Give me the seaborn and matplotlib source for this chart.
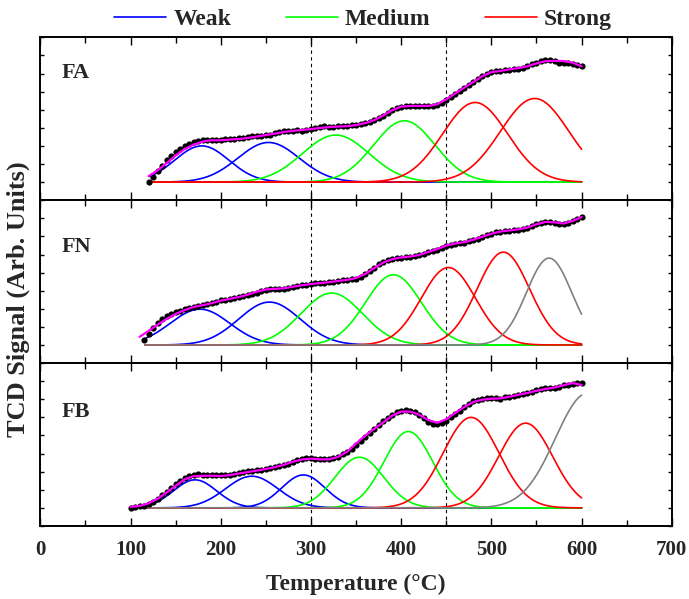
import numpy as np
import pandas as pd
import matplotlib
matplotlib.use('Agg')
import matplotlib.pyplot as plt
from matplotlib.ticker import MultipleLocator
import seaborn as sns

sns.set_theme(style='ticks')
plt.rcParams['font.family'] = ['Liberation Serif', 'DejaVu Serif']
plt.rcParams['font.weight'] = 'bold'

# Panel names
samples = ['FA', 'FN', 'FB']

# Experimental points (every 5 degC) and fitted envelope (every 10 degC)
fa_start, fn_start, fb_start = 120, 115, 100
fa_dots = [1.02, 1.3, 1.62, 1.9, 2.2, 2.45, 2.68, 2.85, 3.0, 3.12, 3.2, 3.26, 3.3, 3.33, 3.33, 3.34,
           3.35, 3.36, 3.38, 3.4, 3.42, 3.44, 3.5, 3.55, 3.52, 3.57, 3.6, 3.63, 3.7, 3.76, 3.8, 3.82,
           3.84, 3.86, 3.85, 3.9, 3.95, 4.0, 4.05, 4.08, 4.04, 4.05, 4.1, 4.12, 4.12, 4.14, 4.16, 4.2,
           4.27, 4.33, 4.42, 4.55, 4.68, 4.82, 4.97, 5.08, 5.15, 5.2, 5.22, 5.2, 5.19, 5.2, 5.2, 5.23,
           5.28, 5.38, 5.52, 5.7, 5.85, 6.03, 6.2, 6.35, 6.52, 6.68, 6.85, 6.98, 7.08, 7.13, 7.15, 7.18,
           7.2, 7.25, 7.27, 7.33, 7.4, 7.5, 7.6, 7.68, 7.73, 7.73, 7.7, 7.6, 7.59, 7.57, 7.51, 7.48, 7.44]
fn_dots = [1.25, 1.6, 1.95, 2.2, 2.42, 2.58, 2.72, 2.82, 2.9, 2.98, 3.06, 3.12, 3.17, 3.22, 3.27, 3.33,
           3.4, 3.46, 3.5, 3.56, 3.6, 3.64, 3.7, 3.75, 3.83, 3.9, 3.98, 4.05, 4.08, 4.08, 4.1, 4.12,
           4.16, 4.2, 4.26, 4.3, 4.33, 4.36, 4.4, 4.43, 4.45, 4.47, 4.5, 4.53, 4.57, 4.58, 4.62, 4.66,
           4.78, 4.92, 5.08, 5.25, 5.45, 5.58, 5.68, 5.74, 5.78, 5.82, 5.85, 5.88, 5.92, 5.96, 6.03, 6.12,
           6.2, 6.27, 6.35, 6.45, 6.55, 6.6, 6.62, 6.65, 6.72, 6.8, 6.88, 6.97, 7.05, 7.14, 7.22, 7.27,
           7.3, 7.32, 7.35, 7.37, 7.42, 7.48, 7.56, 7.68, 7.76, 7.8, 7.8, 7.76, 7.7, 7.68, 7.75, 7.85,
           7.95, 8.06]
fb_dots = [1.02, 1.05, 1.08, 1.12, 1.2, 1.32, 1.48, 1.7, 1.88, 2.08, 2.3, 2.48, 2.65, 2.78, 2.84, 2.85,
           2.84, 2.83, 2.82, 2.8, 2.79, 2.8, 2.84, 2.87, 2.93, 2.96, 3.02, 3.05, 3.08, 3.12, 3.14, 3.18,
           3.24, 3.3, 3.38, 3.45, 3.56, 3.64, 3.7, 3.75, 3.75, 3.72, 3.7, 3.7, 3.72, 3.76, 3.82, 3.95,
           4.08, 4.28, 4.45, 4.68, 4.9, 5.15, 5.35, 5.6, 5.78, 5.95, 6.12, 6.28, 6.38, 6.4, 6.38, 6.3,
           6.12, 5.95, 5.75, 5.65, 5.62, 5.7, 5.82, 6.0, 6.2, 6.38, 6.58, 6.75, 6.88, 6.97, 7.02, 7.05,
           7.05, 7.05, 7.04, 7.1, 7.15, 7.2, 7.24, 7.3, 7.35, 7.42, 7.5, 7.55, 7.62, 7.65, 7.62, 7.68,
           7.78, 7.8, 7.86, 7.9, 7.92]

fa_fit_start, fn_fit_start, fb_fit_start = 120, 110, 100
fa_fit = [1.33, 1.65, 2.05, 2.47, 2.83, 3.07, 3.24, 3.31, 3.31, 3.35, 3.38, 3.44, 3.52, 3.6, 3.68,
          3.77, 3.83, 3.88, 3.93, 3.99, 4.04, 4.07, 4.09, 4.15, 4.26, 4.42, 4.68, 4.97, 5.17, 5.21,
          5.21, 5.21, 5.3, 5.57, 5.9, 6.22, 6.53, 6.85, 7.08, 7.14, 7.23, 7.3, 7.4, 7.56, 7.68, 7.7,
          7.69, 7.6, 7.4]
fn_fit = [1.45, 1.78, 2.12, 2.44, 2.71, 2.93, 3.1, 3.2, 3.31, 3.45, 3.55, 3.65, 3.78, 3.94, 4.07,
          4.1, 4.13, 4.22, 4.3, 4.37, 4.42, 4.47, 4.54, 4.6, 4.7, 4.92, 5.25, 5.55, 5.74, 5.84, 5.89,
          5.97, 6.14, 6.3, 6.5, 6.61, 6.68, 6.82, 6.98, 7.15, 7.27, 7.33, 7.39, 7.49, 7.67, 7.8, 7.78,
          7.71, 7.85, 8.07]
fb_fit = [1.06, 1.11, 1.25, 1.5, 1.85, 2.22, 2.58, 2.75, 2.77, 2.78, 2.76, 2.81, 2.9, 2.98, 3.06,
          3.15, 3.25, 3.38, 3.55, 3.67, 3.72, 3.68, 3.68, 3.82, 4.1, 4.55, 4.99, 5.36, 5.72, 6.1, 6.32,
          6.32, 6.15, 5.86, 5.7, 5.9, 6.25, 6.58, 6.85, 6.98, 7.03, 7.05, 7.14, 7.25, 7.35, 7.47, 7.57,
          7.65, 7.78, 7.9, 7.79]

# Deconvoluted peaks: centre (degC), height above baseline, width (sigma, degC), type
fa_centers = [179, 253, 327.5, 403.5, 482, 548]
fa_heights = [2.0, 2.19, 2.6, 3.39, 4.4, 4.62]
fa_widths = [30, 34, 37, 34, 36, 38]
fa_types = ['Weak', 'Weak', 'Medium', 'Medium', 'Strong', 'Strong']

fn_centers = [177, 254, 323, 391.4, 452.3, 513.3, 564]
fn_heights = [1.98, 2.37, 2.87, 3.88, 4.28, 5.13, 4.8]
fn_widths = [33, 34, 34, 31, 30, 29, 25]
fn_types = ['Weak', 'Weak', 'Medium', 'Medium', 'Strong', 'Strong', 'Other']

fb_centers = [171.5, 234.4, 291.6, 353.7, 408, 477.5, 538, 607]
fb_heights = [1.55, 1.75, 1.82, 2.8, 4.22, 5.0, 4.68, 6.35]
fb_widths = [24, 29, 24, 27, 27, 31, 30, 36]
fb_types = ['Weak', 'Weak', 'Weak', 'Medium', 'Medium', 'Strong', 'Strong', 'Other']

baseline = 1.0
colors = {'Weak': '#0000ff', 'Medium': '#00ff00', 'Strong': '#ff0000', 'Other': '#808080'}

panels = [
    (fa_start, fa_dots, fa_fit_start, fa_fit, fa_centers, fa_heights, fa_widths, fa_types),
    (fn_start, fn_dots, fn_fit_start, fn_fit, fn_centers, fn_heights, fn_widths, fn_types),
    (fb_start, fb_dots, fb_fit_start, fb_fit, fb_centers, fb_heights, fb_widths, fb_types),
]
label_pos = [0.78, 0.715, 0.70]

fig, axes = plt.subplots(3, 1, figsize=(6.89, 5.99), dpi=100, sharex=True)
fig.subplots_adjust(left=0.0585, right=0.975, top=0.9377, bottom=0.1219, hspace=0)

for ax, name, ypos, (d0, dots, f0, fit, cen, hgt, wid, typ) in zip(axes, samples, label_pos, panels):
    t_dots = d0 + 5 * np.arange(len(dots))
    t_fit = f0 + 10 * np.arange(len(fit))
    t = np.linspace(d0 + 1, 600, 400)

    for c, h, w, k in zip(cen, hgt, wid, typ):
        peak = baseline + h * np.exp(-(t - c) ** 2 / (2 * w ** 2))
        sns.lineplot(x=t, y=peak, color=colors[k], lw=1.2, ax=ax)

    sns.scatterplot(x=t_dots, y=dots, color='black', s=20, linewidth=0, ax=ax, zorder=3)
    sns.lineplot(x=t_fit, y=fit, color='#ff00ff', lw=1.6, ax=ax, zorder=4)

    for v in [300, 450]:
        ax.axvline(v, color='black', ls=(0, (3, 3)), lw=0.8, zorder=1)

    ax.text(0.034, ypos, name, transform=ax.transAxes, fontsize=16,
            fontweight='bold', va='center')

    ax.set_xlim(0, 700)
    ax.set_ylim(0, 9)
    ax.set_yticks(range(10))
    ax.set_yticklabels([])
    ax.xaxis.set_major_locator(MultipleLocator(100))
    ax.xaxis.set_minor_locator(MultipleLocator(50))
    ax.tick_params(axis='both', which='both', direction='in', top=True, right=True,
                   width=1.0, color='black')
    ax.tick_params(axis='x', which='major', length=6)
    ax.tick_params(axis='x', which='minor', length=4)
    ax.tick_params(axis='y', length=3)
    for s in ax.spines.values():
        s.set_linewidth(1.4)
        s.set_color('black')

axes[2].tick_params(axis='x', labelsize=15, pad=10)
for lab in axes[2].get_xticklabels():
    lab.set_fontweight('bold')
axes[2].set_xlabel('Temperature (\u00b0C)', fontsize=17, fontweight='bold', labelpad=10)
fig.text(0.026, 0.5, 'TCD Signal (Arb. Units)', rotation=90, va='center', ha='center',
         fontsize=19, fontweight='bold')

handles = [plt.Line2D([], [], color=colors[k], lw=1.2) for k in ['Weak', 'Medium', 'Strong']]
axes[0].legend(handles, ['Weak', 'Medium', 'Strong'], loc='center',
               bbox_to_anchor=(0.511, 1.11), ncol=3, frameon=False, borderpad=0,
               handlelength=2.2, handletextpad=0.3, columnspacing=2.3,
               prop={'size': 17, 'weight': 'bold'})

fig.savefig('out.png', dpi=100)
